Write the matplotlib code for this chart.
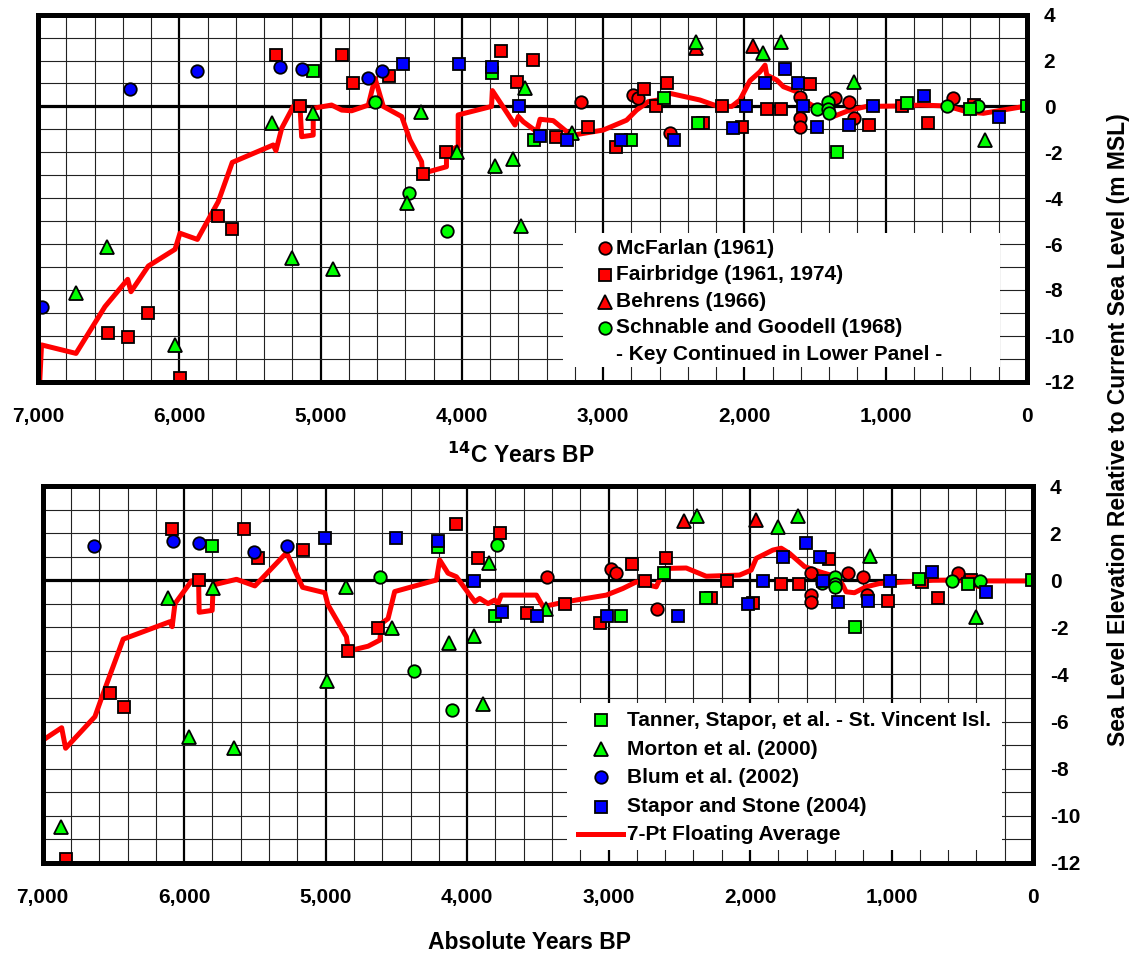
import matplotlib
matplotlib.use("Agg")
import matplotlib.pyplot as plt
from matplotlib.patches import Rectangle
from matplotlib.lines import Line2D

plt.rcParams['font.family'] = ['Liberation Sans', 'DejaVu Sans']
plt.rcParams['font.weight'] = 'bold'

# ---------------- data: top panel (14C years BP) ----------------
mcfarlan_top_x = [3157, 2787, 2751, 2527, 1607, 1607, 1607, 1359, 1258, 1222, 527]
mcfarlan_top_y = [0.18, 0.5, 0.35, -1.15, 0.42, -0.52, -0.88, 0.35, 0.18, -0.52, 0.35]

fairbridge_top_x = [5316, 4848, 4768, 5146, 6224, 6507, 6365, 5993, 5724, 5627, 4516, 4278,
                    4112, 3723, 3494, 3612, 3336, 3105, 2911, 2709, 2628, 2546, 2291, 2161,
                    2020, 1842, 1741, 1534, 1116, 887, 698, 377]
fairbridge_top_y = [2.24, 2.24, 1.03, 0.0, -9.0, -9.87, -10.07, -11.83, -4.78, -5.36, 1.33, -2.95,
                    -1.97, 2.43, 2.02, 1.08, -1.35, -0.91, -1.75, 0.75, 0.02, 1.03, -0.71, 0.02,
                    -0.88, -0.12, -0.12, 0.98, -0.81, 0.03, -0.74, 0.05]

behrens_top_x = [2346, 1942]
behrens_top_y = [2.55, 2.63]

schnable_top_x = [4617, 4374, 4103, 1485, 1407, 1407, 1400, 564, 348]
schnable_top_y = [0.2, -3.76, -5.43, -0.12, 0.2, -0.12, -0.3, 0.02, 0.02]

tanner_top_x = [5056, 3785, 3489, 2803, 2569, 2327, 1347, 847, 406, 0]
tanner_top_y = [1.54, 1.44, -1.46, -1.46, 0.35, -0.71, -1.97, 0.13, -0.12, 0.0]

morton_top_x = [5342, 5056, 6514, 6731, 6033, 5204, 4914, 4289, 4391, 4032, 3553, 3764,
                3636, 3584, 3223, 2346, 1867, 1744, 1224, 298]
morton_top_y = [-0.71, -0.3, -6.12, -8.12, -10.4, -6.62, -7.1, -0.23, -4.2, -1.97, 0.79, -2.58,
                -2.29, -5.2, -1.15, 2.8, 2.32, 2.82, 1.08, -1.47]

blum_top_x = [6350, 5873, 5287, 5129, 4664, 4563, 6970]
blum_top_y = [0.75, 1.54, 1.73, 1.63, 1.23, 1.56, -8.76]

stapor_top_x = [4415, 4018, 3785, 3596, 3447, 3258, 2876, 2496, 2079, 1991, 1855, 1713,
                1619, 1588, 1489, 1258, 1088, 729, 196]
stapor_top_y = [1.85, 1.84, 1.73, 0.02, -1.28, -1.46, -1.46, -1.46, -0.95, 0.02, 1.03, 1.63,
                1.03, 0.03, -0.88, -0.81, 0.03, 0.45, -0.47]

avg_top_x = [6990, 6975, 6731, 6526, 6365, 6342, 6219, 6030, 5995, 5872, 5724, 5625, 5335,
             5316, 5275, 5193, 5146, 5134, 5052, 5052, 4922, 4850, 4780, 4662, 4615, 4556,
             4426, 4367, 4285, 4278, 4109, 4109, 4026, 4026, 3790, 3784, 3624, 3600, 3565,
             3470, 3447, 3353, 3258, 3211, 2999, 2834, 2763, 2681, 2610, 2527, 2315, 2196,
             2090, 2032, 1961, 1890, 1854, 1842, 1771, 1724, 1630, 1583, 1465, 1371, 1253,
             1135, 899, 757, 568, 427, 309, 0]
avg_top_y = [-12.3, -10.4, -10.77, -8.73, -7.54, -8.08, -6.96, -6.23, -5.53, -5.8, -4.15, -2.44,
             -1.68, -1.93, -0.95, 0.0, 0.05, -1.32, -1.25, -0.08, 0.06, -0.16, -0.19, 0.06, 1.23,
             0.0, -0.44, -1.46, -2.41, -2.92, -2.63, -1.97, -1.75, -0.37, 0.0, 0.69, -0.81, -0.44,
             -0.67, -1.1, -0.56, -0.62, -1.1, -1.25, -1.03, -0.6, -0.16, 0.21, 0.28, 0.57, 0.28,
             0.02, 0.0, 0.28, 1.12, 1.51, 1.8, 1.37, 1.15, 0.86, 0.64, 0.28, -0.16, -0.44, -0.16,
             0.0, 0.02, 0.06, 0.02, -0.23, -0.3, 0.02]

# ---------------- data: bottom panel (absolute years BP) ----------------
mcfarlan_bot_x = [3435, 2981, 2950, 2658, 1567, 1567, 1567, 1307, 1201, 1173, 529]
mcfarlan_bot_y = [0.13, 0.46, 0.29, -1.23, 0.29, -0.63, -0.91, 0.29, 0.15, -0.63, 0.29]

fairbridge_bot_x = [6089, 5578, 5477, 5163, 5898, 6525, 6426, 6838, 4839, 4630, 4078, 3925,
                    3769, 3578, 3306, 3063, 2835, 2745, 2592, 2274, 2161, 1980, 1780, 1657,
                    1439, 1022, 785, 668, 440]
fairbridge_bot_y = [2.17, 2.17, 0.96, 1.28, 0.0, -4.8, -5.4, -11.85, -3.0, -2.02, 2.37, 0.96,
                    1.99, -1.4, -0.99, -1.83, 0.68, -0.03, 0.96, -0.77, -0.03, -0.95, -0.16, -0.16,
                    0.9, -0.87, -0.06, -0.76, 0.01]

behrens_bot_x = [2468, 1956]
behrens_bot_y = [2.53, 2.56]

schnable_bot_x = [4618, 4375, 4106, 3788, 1490, 1403, 1403, 1403, 572, 378]
schnable_bot_y = [0.15, -3.84, -5.5, 1.5, -0.13, 0.15, -0.16, -0.3, -0.02, -0.02]

tanner_bot_x = [5804, 4206, 3806, 2910, 2609, 2310, 1260, 804, 459, 10]
tanner_bot_y = [1.45, 1.42, -1.52, -1.52, 0.29, -0.77, -2.0, 0.06, -0.16, 0.0]

morton_bot_x = [5799, 6113, 5969, 5649, 6871, 4990, 4853, 4528, 4129, 3949, 3847, 3887,
                3445, 2376, 1799, 1662, 1155, 405]
morton_bot_y = [-0.32, -0.74, -6.64, -7.13, -10.46, -4.26, -0.27, -2.04, -2.65, -2.35, 0.75, -5.25,
                -1.23, 2.74, 2.25, 2.74, 1.03, -1.57]

blum_bot_x = [6636, 6077, 5894, 5505, 5276]
blum_bot_y = [1.45, 1.68, 1.6, 1.21, 1.45]

stapor_bot_x = [5006, 4504, 4206, 3954, 3750, 3508, 3009, 2510, 2014, 1910, 1764, 1608,
                1509, 1485, 1380, 1163, 1010, 713, 331]
stapor_bot_y = [1.78, 1.78, 1.67, -0.03, -1.34, -1.52, -1.52, -1.52, -1.02, -0.03, 1.0, 1.59,
                1.0, -0.02, -0.91, -0.87, -0.02, 0.37, -0.51]

avg_bot_x = [7040, 6866, 6838, 6631, 6572, 6431, 6101, 6085, 6065, 5948, 5898, 5894, 5802,
             5795, 5630, 5500, 5276, 5163, 5006, 4983, 4853, 4839, 4700, 4617, 4605, 4559,
             4512, 4217, 4194, 4135, 4076, 3946, 3911, 3852, 3805, 3782, 3758, 3510, 3463,
             3299, 3016, 2899, 2804, 2663, 2604, 2451, 2310, 2074, 1992, 1956, 1839, 1780,
             1721, 1615, 1509, 1392, 1345, 1321, 1262, 1180, 1086, 898, 709, 521, 427, 380,
             333, 0]
avg_bot_y = [-6.95, -6.26, -7.13, -5.79, -4.8, -2.5, -1.76, -1.97, -0.99, -0.03, 0.0, -1.36, -1.28,
             -0.2, 0.04, -0.24, 1.17, -0.3, -0.53, -1.05, -2.4, -3.0, -2.8, -2.54, -1.83, -1.63,
             -0.48, 0.01, 0.86, 0.3, 0.15, -0.91, -0.77, -0.99, -0.84, -0.99, -0.63, -0.63, -1.12,
             -0.91, -0.63, -0.35, -0.07, -0.28, 0.5, 0.52, 0.17, 0.22, 0.43, 0.93, 1.28, 1.36,
             1.14, 0.58, 0.36, 0.15, -0.2, -0.49, -0.53, -0.28, -0.14, -0.07, 0.0, 0.01, -0.2, -0.27,
             -0.03, -0.03]

# ---------------- labels ----------------
xtick_values = [7000, 6000, 5000, 4000, 3000, 2000, 1000, 0]
xtick_labels = ['7,000', '6,000', '5,000', '4,000', '3,000', '2,000', '1,000', '0']
ytick_values = [4, 2, 0, -2, -4, -6, -8, -10, -12]
ytick_labels = ['4', '2', '0', '-2', '-4', '-6', '-8', '-10', '-12']

top_legend_labels = ['McFarlan (1961)', 'Fairbridge (1961, 1974)', 'Behrens (1966)',
                     'Schnable and Goodell (1968)']
top_legend_note = '- Key Continued in Lower Panel -'
bot_legend_labels = ['Tanner, Stapor, et al. - St. Vincent Isl.', 'Morton et al. (2000)',
                     'Blum et al. (2002)', 'Stapor and Stone (2004)', '7-Pt Floating Average']
ylabel_text = 'Sea Level Elevation Relative to Current Sea Level (m MSL)'

RED, GREEN, BLUE = '#ff0000', '#00ff00', '#0000ff'
FS = 15

series_style = {
    'mcfarlan': dict(marker='o', color=RED, ms=9),
    'fairbridge': dict(marker='s', color=RED, ms=9),
    'behrens': dict(marker='^', color=RED, ms=10),
    'schnable': dict(marker='o', color=GREEN, ms=9),
    'tanner': dict(marker='s', color=GREEN, ms=9),
    'morton': dict(marker='^', color=GREEN, ms=10),
    'blum': dict(marker='o', color=BLUE, ms=9),
    'stapor': dict(marker='s', color=BLUE, ms=9),
}

fig = plt.figure(figsize=(11.33, 9.55), dpi=100)
ax1 = fig.add_axes([38/1133, 1-381.6/955, 989/1133, 366.9/955])
ax2 = fig.add_axes([42.7/1133, 1-863/955, 990.3/1133, 377/955])


def style_axis(ax):
    ax.set_xlim(7000, 0)
    ax.set_ylim(-12, 4)
    ax.set_xticks(xtick_values)
    ax.set_xticklabels(xtick_labels, fontsize=FS, fontweight='bold')
    ax.set_xticks(range(0, 7001, 200), minor=True)
    ax.set_yticks(ytick_values)
    ax.set_yticklabels(ytick_labels, fontsize=FS, fontweight='bold')
    ax.set_yticks(range(-12, 5, 1), minor=True)
    ax.yaxis.tick_right()
    ax.tick_params(axis='both', which='both', length=0)
    ax.tick_params(axis='x', pad=18)
    ax.tick_params(axis='y', pad=12)
    ax.grid(True, which='minor', axis='both', color='#222222', lw=0.8, zorder=0)
    ax.grid(True, which='major', axis='x', color='black', lw=1.6, zorder=0)
    ax.grid(True, which='major', axis='y', color='#222222', lw=0.8, zorder=0)
    ax.set_axisbelow(True)
    ax.axhline(0, color='black', lw=2.3, zorder=1)
    for sp in ax.spines.values():
        sp.set_linewidth(3.6)
        sp.set_zorder(20)


def plot_series(ax, data):
    for key, (xs, ys) in data:
        st = series_style[key]
        ax.plot(xs, ys, linestyle='none', marker=st['marker'], ms=st['ms'],
                markerfacecolor=st['color'], markeredgecolor='black', markeredgewidth=1.3,
                zorder=4)


for ax in (ax1, ax2):
    style_axis(ax)

ax1.plot(avg_top_x, avg_top_y, color=RED, lw=3.6, zorder=3)
plot_series(ax1, [('mcfarlan', (mcfarlan_top_x, mcfarlan_top_y)),
                  ('fairbridge', (fairbridge_top_x, fairbridge_top_y)),
                  ('behrens', (behrens_top_x, behrens_top_y)),
                  ('schnable', (schnable_top_x, schnable_top_y)),
                  ('tanner', (tanner_top_x, tanner_top_y)),
                  ('morton', (morton_top_x, morton_top_y)),
                  ('blum', (blum_top_x, blum_top_y)),
                  ('stapor', (stapor_top_x, stapor_top_y))])

ax2.plot(avg_bot_x, avg_bot_y, color=RED, lw=3.6, zorder=3)
plot_series(ax2, [('mcfarlan', (mcfarlan_bot_x, mcfarlan_bot_y)),
                  ('fairbridge', (fairbridge_bot_x, fairbridge_bot_y)),
                  ('behrens', (behrens_bot_x, behrens_bot_y)),
                  ('schnable', (schnable_bot_x, schnable_bot_y)),
                  ('tanner', (tanner_bot_x, tanner_bot_y)),
                  ('morton', (morton_bot_x, morton_bot_y)),
                  ('blum', (blum_bot_x, blum_bot_y)),
                  ('stapor', (stapor_bot_x, stapor_bot_y))])

# x labels
ax1.set_xlabel(r'$^{\mathbf{14}}$C Years BP', fontsize=16.5, fontweight='bold')
ax1.xaxis.set_label_coords((521-38)/989, (381.6-455)/366.9)
ax1.xaxis.label.set_va('center')
ax2.set_xlabel('Absolute Years BP', fontsize=16.5, fontweight='bold')
ax2.xaxis.set_label_coords((530-42.7)/990.3, (863-942)/377)
ax2.xaxis.label.set_va('center')

fig.text(1119/1133, 1-430/955, ylabel_text, rotation=90, ha='center', va='center',
         fontsize=16.5, fontweight='bold')

# ---------------- legends (manual key boxes) ----------------
ax1.add_patch(Rectangle((0.5308, 0.0398), 0.9727-0.5308, 0.405-0.0398,
                        transform=ax1.transAxes, facecolor='white', edgecolor='none', zorder=8))
top_keys = ['mcfarlan', 'fairbridge', 'behrens', 'schnable']
top_rows = [0.3633, 0.2906, 0.2178, 0.1469]
for key, lab, yy in zip(top_keys, top_legend_labels, top_rows):
    st = series_style[key]
    ax1.plot([0.5733], [yy], transform=ax1.transAxes, linestyle='none', marker=st['marker'],
             ms=st['ms'], markerfacecolor=st['color'], markeredgecolor='black',
             markeredgewidth=1.3, zorder=9, clip_on=False)
    ax1.text(0.5845, yy, lab, transform=ax1.transAxes, ha='left', va='center',
             fontsize=FS, fontweight='bold', zorder=9)
ax1.text(0.5845, 0.0725, top_legend_note, transform=ax1.transAxes, ha='left', va='center',
         fontsize=FS, fontweight='bold', zorder=9)

ax2.add_patch(Rectangle((0.5294, 0.0345), 0.9687-0.5294, 0.4244-0.0345,
                        transform=ax2.transAxes, facecolor='white', edgecolor='none', zorder=8))
bot_keys = ['tanner', 'morton', 'blum', 'stapor']
bot_rows = [0.3793, 0.3016, 0.2273, 0.1494, 0.0761]
for key, lab, yy in zip(bot_keys, bot_legend_labels[:4], bot_rows[:4]):
    st = series_style[key]
    ax2.plot([0.5638], [yy], transform=ax2.transAxes, linestyle='none', marker=st['marker'],
             ms=st['ms'], markerfacecolor=st['color'], markeredgecolor='black',
             markeredgewidth=1.3, zorder=9, clip_on=False)
    ax2.text(0.5900, yy, lab, transform=ax2.transAxes, ha='left', va='center',
             fontsize=FS, fontweight='bold', zorder=9)
ax2.add_line(Line2D([0.5406, 0.5860], [bot_rows[4], bot_rows[4]], transform=ax2.transAxes,
                    color=RED, lw=3.6, zorder=9))
ax2.text(0.5900, bot_rows[4], bot_legend_labels[4], transform=ax2.transAxes, ha='left',
         va='center', fontsize=FS, fontweight='bold', zorder=9)

fig.savefig('out.png', dpi=100)
